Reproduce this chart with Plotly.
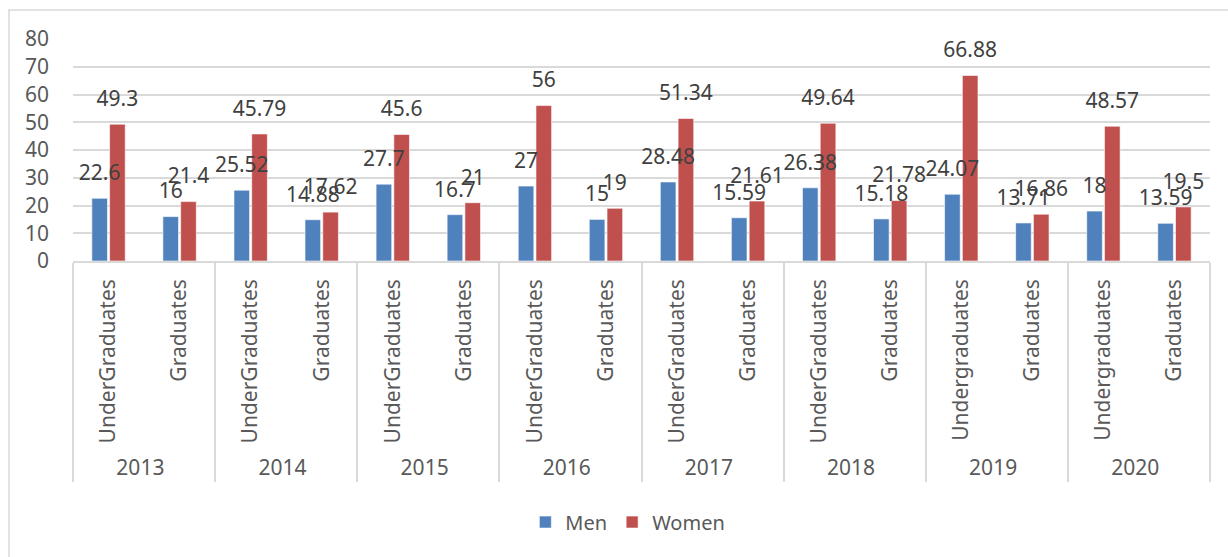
import plotly.graph_objects as go

years = ["2013", "2014", "2015", "2016", "2017", "2018", "2019", "2020"]
ug_labels = ["UnderGraduates", "UnderGraduates", "UnderGraduates", "UnderGraduates",
             "UnderGraduates", "UnderGraduates", "Undergraduates", "Undergraduates"]
grad_label = "Graduates"
men_ug = [22.6, 25.52, 27.7, 27, 28.48, 26.38, 24.07, 18]
men_grad = [16, 14.88, 16.7, 15, 15.59, 15.18, 13.71, 13.59]
women_ug = [49.3, 45.79, 45.6, 56, 51.34, 49.64, 66.88, 48.57]
women_grad = [21.4, 17.62, 21, 19, 21.61, 21.78, 16.86, 19.5]
y_ticks = [0, 10, 20, 30, 40, 50, 60, 70, 80]

BLUE = "#4F81BD"
RED = "#C0504D"
GRAY = "#595959"
GRID = "#D9D9D9"
FONT = "Noto Sans"

# undergraduate entries first so the inner-level order matches the source
x = [years + years, ug_labels + [grad_label] * len(years)]
men = men_ug + men_grad
women = women_ug + women_grad

fig = go.Figure()
fig.add_trace(go.Bar(x=x, y=men, name="Men", marker_color=BLUE,
                     marker_line_color="white", marker_line_width=0.6,
                     offsetgroup="m", hoverinfo="y"))
fig.add_trace(go.Bar(x=x, y=women, name="Women", marker_color=RED,
                     marker_line_color="white", marker_line_width=0.6,
                     offsetgroup="w", hoverinfo="y"))

for vals, grp in ((men, "m"), (women, "w")):
    fig.add_trace(go.Scatter(
        x=x, y=vals, mode="markers+text", offsetgroup=grp,
        text=[f"{v:g}" for v in vals], textposition="top center",
        textfont=dict(family=FONT, size=21, color="#404040"),
        marker=dict(size=19, opacity=0), showlegend=False,
        hoverinfo="skip", cliponaxis=False))

fig.update_layout(
    width=1228, height=557,
    margin=dict(l=73, r=18, t=39, b=296),
    paper_bgcolor="white", plot_bgcolor="white",
    barmode="group", scattermode="group",
    bargap=0.5, bargroupgap=0.12,
    font=dict(family=FONT, size=20, color=GRAY),
    legend=dict(orientation="h", x=0.488, xanchor="center",
                y=-1.176, yanchor="middle",
                font=dict(family=FONT, size=20, color=GRAY),
                itemwidth=30, traceorder="normal"),
    shapes=[dict(type="rect", xref="paper", yref="paper",
                 x0=-0.0563, x1=1.05, y0=-1.4, y1=1.1306,
                 line=dict(color=GRID, width=1.5), layer="below")],
)
fig.update_xaxes(type="multicategory", tickangle=-90,
                 showline=True, linecolor=GRID, linewidth=1.5,
                 showdividers=True, dividercolor=GRID, dividerwidth=1.5,
                 ticks="", ticklabelstandoff=8,
                 tickfont=dict(family=FONT, size=21, color=GRAY),
                 automargin=False)
fig.update_yaxes(range=[0, 80], tickvals=y_ticks, showgrid=True,
                 gridcolor=GRID, gridwidth=1.5, zeroline=False,
                 showline=False, ticks="", ticklabelstandoff=23,
                 tickfont=dict(family=FONT, size=21, color=GRAY),
                 automargin=False)

fig.write_html("out.html",
               config={"displayModeBar": False},
               post_script="document.body.style.margin='0';"
                           "document.body.style.overflow='hidden';")
